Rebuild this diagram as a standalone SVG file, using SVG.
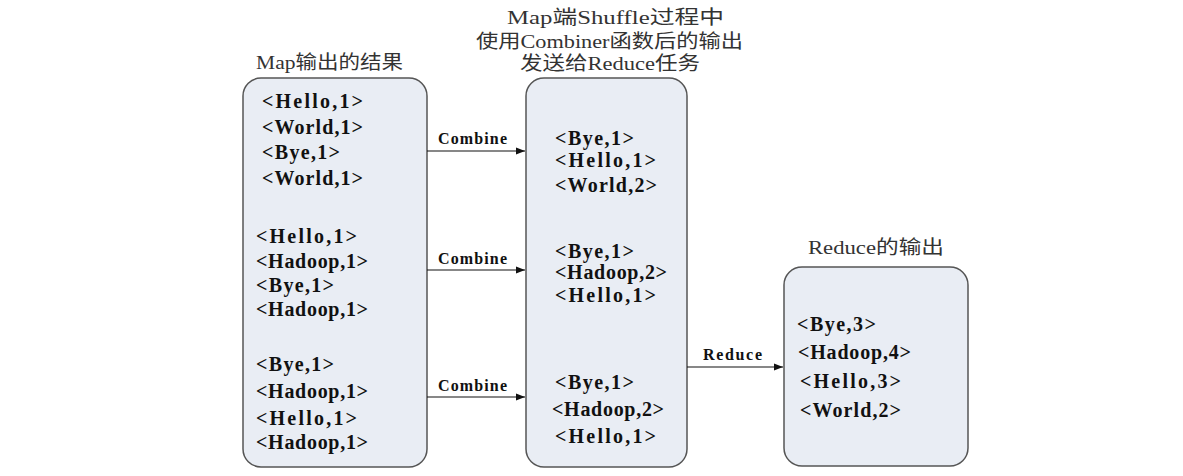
<svg xmlns="http://www.w3.org/2000/svg" width="1183" height="476" viewBox="0 0 1183 476">
<defs>
<marker id="arr" viewBox="0 0 10 10" refX="10" refY="5" markerWidth="9" markerHeight="9" markerUnits="userSpaceOnUse" orient="auto">
<path d="M0,1 L10,5 L0,9 z" fill="#111"/>
</marker>
<style>
.box{fill:#e9edf4;stroke:#555;stroke-width:1.5}
.kv{font-family:"Liberation Serif","DejaVu Serif",serif;font-weight:bold;font-size:20px;fill:#111}
.title{font-family:"Liberation Serif","Noto Sans CJK SC",serif;font-size:19px;fill:#333}
.lbl{font-family:"Liberation Serif","DejaVu Serif",serif;font-weight:bold;font-size:16px;fill:#111}
.conn{stroke:#111;stroke-width:1.2;fill:none;marker-end:url(#arr)}
</style>
</defs>
<rect width="1183" height="476" fill="#fff"/>

<g id="map-output">
<text class="title" x="256" y="69" textLength="147" lengthAdjust="spacingAndGlyphs">Map输出的结果</text>
<rect class="box" x="243" y="78" width="184" height="389" rx="18"/>
<text class="kv" x="262" y="108" textLength="101">&lt;Hello,1&gt;</text>
<text class="kv" x="262" y="134" textLength="101">&lt;World,1&gt;</text>
<text class="kv" x="262" y="159" textLength="78">&lt;Bye,1&gt;</text>
<text class="kv" x="262" y="185" textLength="101">&lt;World,1&gt;</text>
<text class="kv" x="256" y="243" textLength="101">&lt;Hello,1&gt;</text>
<text class="kv" x="256" y="268" textLength="112">&lt;Hadoop,1&gt;</text>
<text class="kv" x="256" y="292" textLength="78">&lt;Bye,1&gt;</text>
<text class="kv" x="256" y="316" textLength="112">&lt;Hadoop,1&gt;</text>
<text class="kv" x="256" y="371" textLength="78">&lt;Bye,1&gt;</text>
<text class="kv" x="256" y="398" textLength="112">&lt;Hadoop,1&gt;</text>
<text class="kv" x="256" y="425" textLength="101">&lt;Hello,1&gt;</text>
<text class="kv" x="256" y="449" textLength="112">&lt;Hadoop,1&gt;</text>
</g>

<g id="combiner-output">
<text class="title" x="507" y="24" textLength="217" lengthAdjust="spacingAndGlyphs">Map端Shuffle过程中</text>
<text class="title" x="476" y="48" textLength="267" lengthAdjust="spacingAndGlyphs">使用Combiner函数后的输出</text>
<text class="title" x="520" y="70" textLength="180" lengthAdjust="spacingAndGlyphs">发送给Reduce任务</text>
<rect class="box" x="526" y="78" width="161" height="389" rx="18"/>
<text class="kv" x="555" y="145" textLength="79">&lt;Bye,1&gt;</text>
<text class="kv" x="555" y="167" textLength="101">&lt;Hello,1&gt;</text>
<text class="kv" x="555" y="192" textLength="102">&lt;World,2&gt;</text>
<text class="kv" x="555" y="258" textLength="79">&lt;Bye,1&gt;</text>
<text class="kv" x="555" y="279" textLength="112">&lt;Hadoop,2&gt;</text>
<text class="kv" x="555" y="302" textLength="101">&lt;Hello,1&gt;</text>
<text class="kv" x="555" y="389" textLength="79">&lt;Bye,1&gt;</text>
<text class="kv" x="552" y="416" textLength="112">&lt;Hadoop,2&gt;</text>
<text class="kv" x="555" y="443" textLength="101">&lt;Hello,1&gt;</text>
</g>

<g id="reduce-output">
<text class="title" x="808" y="254" textLength="136" lengthAdjust="spacingAndGlyphs">Reduce的输出</text>
<rect class="box" x="784" y="267" width="184" height="199" rx="18"/>
<text class="kv" x="797" y="331" textLength="79">&lt;Bye,3&gt;</text>
<text class="kv" x="798" y="359" textLength="113">&lt;Hadoop,4&gt;</text>
<text class="kv" x="800" y="388" textLength="101">&lt;Hello,3&gt;</text>
<text class="kv" x="800" y="417" textLength="101">&lt;World,2&gt;</text>
</g>

<g id="connectors">
<line class="conn" x1="427" y1="151" x2="525" y2="151"/>
<text class="lbl" x="438" y="144" textLength="69">Combine</text>
<line class="conn" x1="427" y1="270" x2="525" y2="270"/>
<text class="lbl" x="438" y="264" textLength="69">Combine</text>
<line class="conn" x1="427" y1="397" x2="525" y2="397"/>
<text class="lbl" x="438" y="391" textLength="69">Combine</text>
<line class="conn" x1="687" y1="367" x2="783" y2="367"/>
<text class="lbl" x="703" y="360" textLength="59">Reduce</text>
</g>
</svg>
